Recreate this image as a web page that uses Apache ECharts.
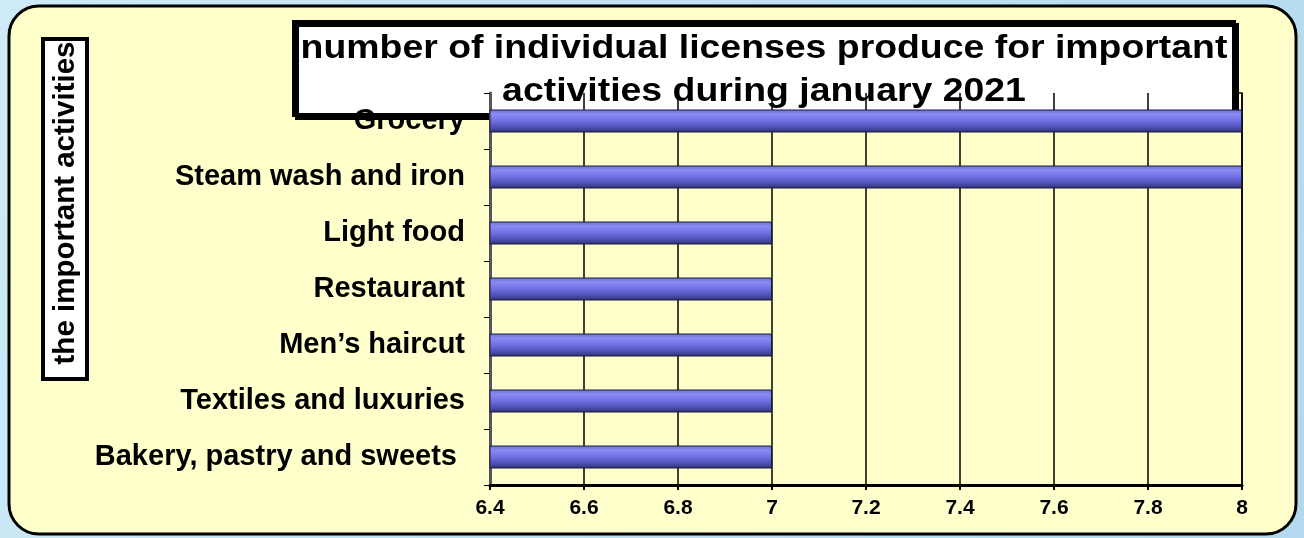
<!DOCTYPE html>
<html>
<head>
<meta charset="utf-8">
<script src="https://cdn.jsdelivr.net/npm/echarts@6/dist/echarts.min.js"></script>
<style>
  html, body { margin: 0; padding: 0; }
  #chart { width: 1304px; height: 538px; }
</style>
</head>
<body>
<div id="chart"></div>
<script>
// activities, top to bottom as shown
var activities = ['Grocery', 'Steam wash and iron', 'Light food', 'Restaurant',
  "Men\u2019s haircut", 'Textiles and luxuries', 'Bakery, pastry and sweets '];
var licenses = [8, 8, 7, 7, 7, 7, 7];
var xTicks = [6.4, 6.6, 6.8, 7, 7.2, 7.4, 7.6, 7.8, 8];

var titleText = 'number of individual licenses produce for important\nactivities during january 2021';
var yName = 'the important activities';

var font = '"Liberation Sans", Arial, sans-serif';

var myChart = echarts.init(document.getElementById('chart'));

var option = {
  backgroundColor: {
    type: 'linear', x: 0, y: 0, x2: 1, y2: 1,
    colorStops: [
      { offset: 0, color: '#cfeaf7' },
      { offset: 0.5, color: '#bfe1f2' },
      { offset: 1, color: '#b3d9ee' }
    ]
  },
  animation: false,
  grid: {
    left: 490,
    right: 62,
    top: 93,
    bottom: 53,
    show: true,
    backgroundColor: '#ffffcc',
    borderColor: '#000',
    borderWidth: 1.5
  },
  xAxis: {
    type: 'value',
    min: xTicks[0],
    max: xTicks[xTicks.length - 1],
    interval: 0.2,
    axisLine: { show: true, lineStyle: { color: '#000', width: 3 } },
    axisTick: { show: true, length: 5, lineStyle: { color: '#000', width: 2 } },
    splitLine: { show: true, lineStyle: { color: '#000', width: 1.5 } },
    axisLabel: {
      color: '#000',
      fontFamily: font,
      fontWeight: 'bold',
      fontSize: 21,
      margin: 13
    }
  },
  yAxis: {
    type: 'category',
    inverse: true,
    data: activities,
    axisLine: { show: true, lineStyle: { color: '#555', width: 3 } },
    axisTick: { show: true, length: 6, lineStyle: { color: '#000', width: 1 } },
    axisLabel: {
      color: '#000',
      fontFamily: font,
      fontWeight: 'bold',
      fontSize: 29,
      margin: 25
    }
  },
  series: [{
    type: 'bar',
    data: licenses,
    barWidth: 23,
    itemStyle: {
      color: {
        type: 'linear', x: 0, y: 0, x2: 0, y2: 1,
        colorStops: [
          { offset: 0, color: '#6a6adc' },
          { offset: 0.2, color: '#8c8cf4' },
          { offset: 0.5, color: '#6f6fe6' },
          { offset: 0.8, color: '#4c4cb0' },
          { offset: 1, color: '#2e2e70' }
        ]
      },
      borderColor: '#1a1a40',
      borderWidth: 1
    }
  }],
  graphic: [
    {
      type: 'rect',
      z: -10,
      shape: { x: 9, y: 6, width: 1287, height: 528, r: 30 },
      style: { fill: '#ffffcc', stroke: '#000', lineWidth: 3 }
    },
    {
      type: 'group',
      z: 100,
      children: [
        {
          type: 'rect',
          shape: { x: 294, y: 22, width: 940, height: 93 },
          style: {
            fill: '#fff', stroke: '#000', lineWidth: 4,
            shadowColor: '#000', shadowOffsetX: 3, shadowOffsetY: 3
          }
        },
        {
          type: 'text',
          x: 764,
          y: 70,
          scaleX: 1.1,
          style: {
            text: titleText,
            font: 'bold 34px ' + font,
            fill: '#000',
            align: 'center',
            verticalAlign: 'middle',
            lineHeight: 43
          }
        }
      ]
    },
    {
      type: 'group',
      z: 100,
      children: [
        {
          type: 'rect',
          shape: { x: 43, y: 39, width: 44, height: 340 },
          style: { fill: '#fff', stroke: '#000', lineWidth: 4 }
        },
        {
          type: 'text',
          x: 66,
          y: 203,
          rotation: Math.PI / 2,
          style: {
            text: yName,
            font: 'bold 29.5px ' + font,
            fill: '#000',
            align: 'center',
            verticalAlign: 'middle'
          }
        }
      ]
    }
  ]
};

myChart.setOption(option);
</script>
</body>
</html>
